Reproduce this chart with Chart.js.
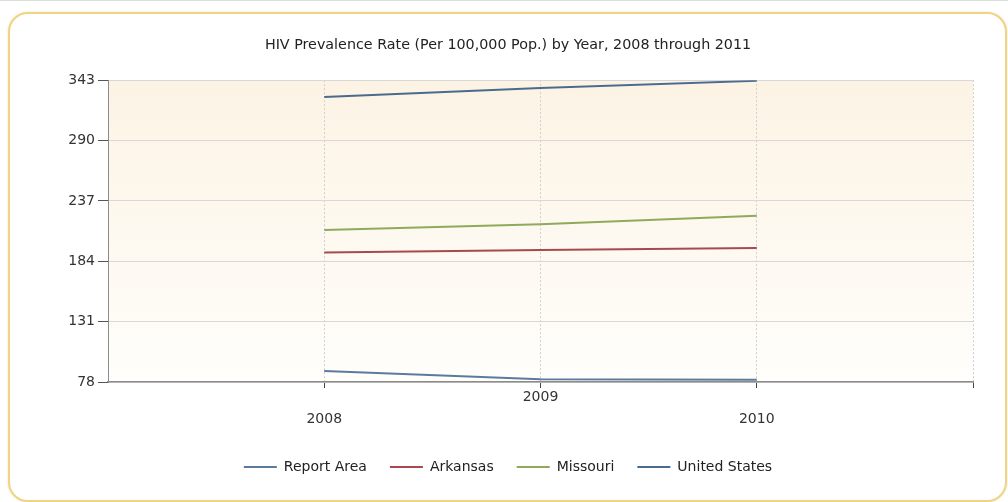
<!DOCTYPE html>
<html>
<head>
<meta charset="utf-8">
<script src="https://cdn.jsdelivr.net/npm/chart.js@4.4.1/dist/chart.umd.min.js"></script>
<style>
  html, body { margin: 0; padding: 0; background: #ffffff; }
  body { width: 1008px; height: 502px; position: relative; overflow: hidden; border-top: 1px solid #dcdcdc; box-sizing: border-box; }
  #card { position: absolute; left: 8px; top: 11px; width: 999px; height: 490px; box-sizing: border-box; border: 2px solid #f0d486; border-radius: 20px; box-shadow: 0 0 2px rgba(220,190,110,0.5); background: #ffffff; }
  #wrap { position: absolute; left: 0; top: 0; width: 1008px; height: 502px; }
</style>
</head>
<body>
<div id="card"></div>
<div id="wrap"><canvas id="c" width="1008" height="502"></canvas></div>
<script>
const titleText = 'HIV Prevalence Rate (Per 100,000 Pop.) by Year, 2008 through 2011';
const years = [2008, 2009, 2010];
const seriesNames = ['Report Area', 'Arkansas', 'Missouri', 'United States'];
const reportArea = [87.7, 80.4, 80.0];
const arkansas = [191.8, 193.9, 195.7];
const missouri = [211.5, 216.5, 223.9];
const unitedStates = [328.3, 336.2, 342.4];
const yTicks = [78, 131, 184, 237, 290, 343];
const colors = ['#5b7aa0', '#a84a4d', '#8eaa5a', '#4b6a8f'];

const FONT = 'DejaVu Sans';

function pts(vals) { return years.map((y, i) => ({ x: y, y: vals[i] })); }

const allSeries = [reportArea, arkansas, missouri, unitedStates];

const plotBg = {
  id: 'plotBg',
  beforeDraw(chart) {
    const { ctx, chartArea: a } = chart;
    const g = ctx.createLinearGradient(0, a.top, 0, a.bottom);
    g.addColorStop(0, '#fcf3e4');
    g.addColorStop(1, '#fffefb');
    ctx.save();
    ctx.fillStyle = g;
    ctx.fillRect(a.left, a.top, a.right - a.left, a.bottom - a.top);
    ctx.restore();
  }
};

new Chart(document.getElementById('c'), {
  type: 'line',
  data: {
    datasets: allSeries.map((vals, i) => ({
      label: seriesNames[i],
      data: pts(vals),
      borderColor: colors[i],
      backgroundColor: colors[i],
      borderWidth: 2,
      pointRadius: 0,
      tension: 0,
      fill: false
    }))
  },
  options: {
    responsive: false,
    animation: false,
    devicePixelRatio: 1,
    layout: { padding: { left: 43, right: 35, top: 0, bottom: 19 } },
    plugins: {
      title: {
        display: true,
        text: titleText,
        color: '#222',
        font: { family: FONT, size: 14.3, weight: 'normal' },
        padding: { top: 36, bottom: 26 }
      },
      legend: {
        position: 'bottom',
        labels: {
          usePointStyle: true,
          pointStyle: 'line',
          pointStyleWidth: 33,
          color: '#222',
          font: { family: FONT, size: 14 },
          padding: 23
        }
      },
      tooltip: { enabled: false }
    },
    scales: {
      x: {
        type: 'linear',
        min: 2007,
        max: 2011,
        afterFit(scale) { scale.height = 55; },
        afterBuildTicks(scale) {
          scale.ticks = [2007, 2008, 2009, 2010, 2011].map(v => ({ value: v }));
        },
        ticks: {
          autoSkip: false,
          maxRotation: 0,
          minRotation: 0,
          color: '#333',
          padding: -2,
          font: { family: FONT, size: 14, lineHeight: 1.6 },
          callback(v) {
            const i = years.indexOf(v);
            if (i < 0) return '';
            return i % 2 === 1 ? [String(v), ''] : ['', String(v)];
          }
        },
        grid: {
          color: (ctx) => (ctx.tick && ctx.tick.value === 2007) ? 'rgba(0,0,0,0)' : '#cfcfcf',
          lineWidth: 1,
          tickLength: 6,
          tickColor: (ctx) => (ctx.tick && ctx.tick.value === 2007) ? 'rgba(0,0,0,0)' : '#444',
          tickBorderDash: []
        },
        border: { color: '#8c8c8c', width: 1.5, dash: [2, 2] }
      },
      y: {
        min: 78,
        max: 343,
        afterFit(scale) { scale.width = 65; },
        afterBuildTicks(scale) {
          scale.ticks = yTicks.map(v => ({ value: v }));
        },
        ticks: {
          color: '#333',
          padding: 3,
          font: { family: FONT, size: 14 }
        },
        grid: {
          color: '#d8d8d8',
          lineWidth: 1,
          tickLength: 10,
          tickColor: '#555'
        },
        border: { color: '#8c8c8c', width: 1 }
      }
    }
  },
  plugins: [plotBg]
});
</script>
</body>
</html>
